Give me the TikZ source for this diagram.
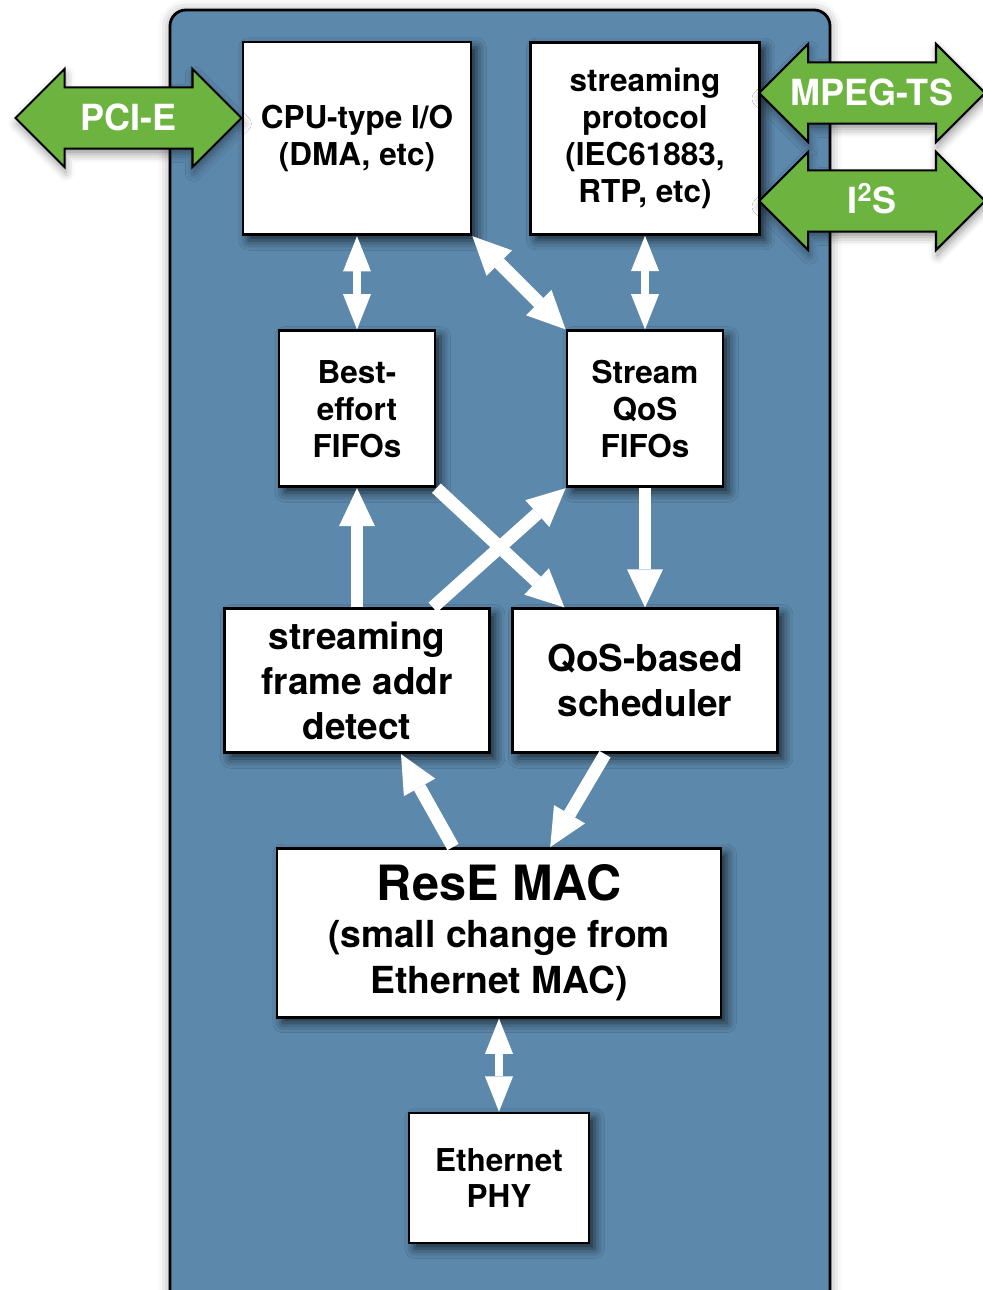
\documentclass[tikz,border=0pt]{standalone}
\usepackage{fontspec}
\setmainfont{TeX Gyre Heros}
\usetikzlibrary{shapes.arrows,shadows.blur,arrows.meta}
\definecolor{panelblue}{RGB}{92,136,172}
\definecolor{linkgreen}{RGB}{108,179,63}

\begin{document}
\begin{tikzpicture}[node distance=7.2cm,align=center,
    box/.style={draw,line width=2pt,fill=white,inner sep=2pt,
        blur shadow={shadow xshift=4pt,shadow yshift=-4pt,shadow blur radius=7pt,shadow opacity=70}},
    small/.style={font=\fontsize{22.4}{26.3}\selectfont\bfseries},
    large/.style={font=\fontsize{26.3}{32}\selectfont\bfseries},
    link/.style={double arrow,draw,line width=1.5pt,fill=linkgreen,text=white,
        double arrow head extend=0.46cm,minimum height=5.65cm,
        inner xsep=0pt,inner ysep=0pt,text height=1.06cm,text depth=0.42cm,
        font=\fontsize{25.6}{30}\selectfont\bfseries,
        blur shadow={shadow xshift=1pt,shadow yshift=-4pt,shadow blur radius=6pt}},
    bighead/.tip={Triangle[length=0.95cm,width=0.9cm,line width=0pt,color=white,fill=white]},
    thinhead/.tip={Triangle[length=0.88cm,width=0.7cm,line width=0pt,color=white,fill=white]},
    flow/.style={color=white,line width=0.32cm,-bighead},
    dflow/.style={color=white,line width=0.22cm,thinhead-thinhead},
    wideflow/.style={color=white,line width=0.32cm,bighead-bighead}]

    \useasboundingbox (0,0) rectangle (24.55,-32.25);

    \draw[line width=2pt,fill=panelblue,rounded corners=0.4cm,
        blur shadow={shadow xshift=0pt,shadow yshift=-1pt,shadow blur radius=8pt}]
        (4.25,-0.25) rectangle (20.75,-33);

    \node[box,small,minimum width=5.7cm,minimum height=4.82cm] (cpu) at (8.925,-3.46) {CPU-type I/O\\(DMA, etc)};
    \node[box,small,minimum width=5.72cm,minimum height=4.8cm] (proto) [right of=cpu] {streaming\\protocol\\(IEC61883,\\RTP, etc)};
    \node[box,small,minimum width=3.9cm,minimum height=3.9cm] (be) [node distance=6.76cm,below of=cpu] {Best-\\effort\\FIFOs};
    \node[box,small,minimum width=3.9cm,minimum height=3.9cm] (sq) [right of=be] {Stream\\QoS\\FIFOs};
    \node[box,large,minimum width=6.62cm,minimum height=3.6cm] (fa) [node distance=6.8cm,below of=be] {streaming\\frame addr\\detect};
    \node[box,large,minimum width=6.62cm,minimum height=3.6cm] (sch) [right of=fa] {QoS-based\\scheduler};
    \node[box,font=\fontsize{26.5}{33}\selectfont\bfseries,minimum width=11.1cm,minimum height=4.22cm] (mac)
        [node distance=6.3cm,below of=fa,xshift=3.55cm]
        {{\fontsize{34.6}{40}\selectfont ResE MAC}\\(small change from\\Ethernet MAC)};
    \node[box,small,minimum width=4.5cm,minimum height=3.25cm] (phy) [node distance=6.13cm,below of=mac] {Ethernet\\PHY};

    \node[link] (pcie) at (3.2125,-2.95) {PCI-E};
    \node[link] (mpeg) at (21.8,-2.325) {MPEG-TS};
    \node[link] (iis) at (21.8,-5.025) {I\textsuperscript{2}S};

    \path[dflow] (cpu) edge (be)
        (proto) edge (sq)
        (mac) edge (phy);
    \path[wideflow] (cpu.south east) edge (sq.north west);
    \path[flow] (fa) edge (be)
        (sq.south) edge (sq.south |- sch.north)
        (be.south east) edge ([xshift=1.33cm]sch.north west)
        ([xshift=-1.45cm]fa.north east) edge (sq.south west)
        ([xshift=-1.15cm]mac.north) edge ([xshift=1.1cm]fa.south)
        ([xshift=-1cm]sch.south) edge ([xshift=1.28cm]mac.north);
\end{tikzpicture}
\end{document}
